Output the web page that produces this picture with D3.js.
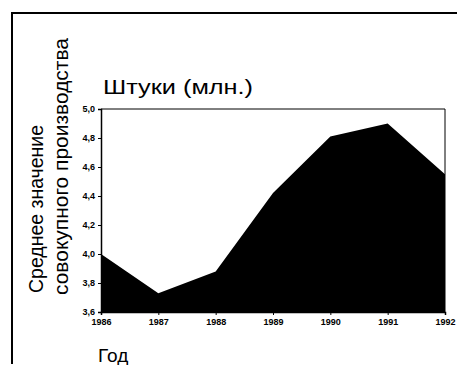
<!DOCTYPE html>
<html><head><meta charset="utf-8">
<script src="https://cdn.jsdelivr.net/npm/d3@7"></script>
<style>body{margin:0;background:#fff}svg{display:block}</style>
</head><body>
<svg id="c" width="457" height="365"></svg>
<script>
const years = [1986, 1987, 1988, 1989, 1990, 1991, 1992];
const values = [4.0, 3.73, 3.88, 4.42, 4.81, 4.90, 4.55];
const yTicks = [3.6, 3.8, 4.0, 4.2, 4.4, 4.6, 4.8, 5.0];
const titleText = "Штуки (млн.)";
const yLabelLines = ["Среднее значение", "совокупного производства"];
const xLabelText = "Год";

const svg = d3.select("#c");
const m = {left: 101, right: 445, top: 109, bottom: 312};
const x = d3.scaleLinear().domain([1986, 1992]).range([m.left, m.right]);
const y = d3.scaleLinear().domain([3.6, 5.0]).range([m.bottom, m.top]);
const sans = "'Liberation Sans',Arial,sans-serif";
const narrow = "'Liberation Sans Narrow','Liberation Sans',Arial,sans-serif";

// outer frame (top + left)
svg.append("path").attr("d", "M12,364 L12,13 L457,13")
  .attr("fill", "none").attr("stroke", "#000").attr("stroke-width", 2);

// area
const area = d3.area().x((d, i) => x(years[i])).y0(y(3.6)).y1(d => y(d));
svg.append("path").datum(values).attr("d", area).attr("fill", "#000");

// plot box top & right
svg.append("path").attr("d", `M${m.left},${m.top} L${m.right},${m.top} L${m.right},${m.bottom}`)
  .attr("fill", "none").attr("stroke", "#000").attr("stroke-width", 1);

const fmt = d => d.toFixed(1).replace(".", ",");
const yAxis = svg.append("g").attr("transform", `translate(${m.left},0)`)
  .call(d3.axisLeft(y).tickValues(yTicks).tickFormat(fmt).tickSize(3).tickPadding(3));
yAxis.select(".domain").attr("stroke-width", 1.5);
yAxis.selectAll("text").attr("font-family", narrow)
  .attr("font-weight", "bold").attr("font-size", 9).attr("fill", "#000");

const xAxis = svg.append("g").attr("transform", `translate(0,${m.bottom})`)
  .call(d3.axisBottom(x).tickValues(years).tickFormat(d3.format("d")).tickSize(3).tickPadding(4));
xAxis.select(".domain").attr("stroke-width", 1.5);
xAxis.selectAll("text").attr("font-family", narrow)
  .attr("font-weight", "bold").attr("font-size", 9).attr("fill", "#000");

// title
svg.append("text").attr("x", 103).attr("y", 94).text(titleText)
  .attr("textLength", 150).attr("lengthAdjust", "spacingAndGlyphs")
  .attr("font-family", sans).attr("font-size", 20).attr("fill", "#000");

// y label
const yl = svg.append("text").attr("transform", "rotate(-90)")
  .attr("font-family", sans).attr("font-size", 20).attr("fill", "#000");
yl.append("tspan").attr("x", -293).attr("y", 43).attr("textLength", 168)
  .attr("lengthAdjust", "spacingAndGlyphs").text(yLabelLines[0]);
yl.append("tspan").attr("x", -295).attr("y", 68).attr("textLength", 257)
  .attr("lengthAdjust", "spacingAndGlyphs").text(yLabelLines[1]);

// x label
svg.append("text").attr("x", 98).attr("y", 362).text(xLabelText)
  .attr("font-family", sans).attr("font-size", 19).attr("fill", "#000");
</script>
</body></html>
